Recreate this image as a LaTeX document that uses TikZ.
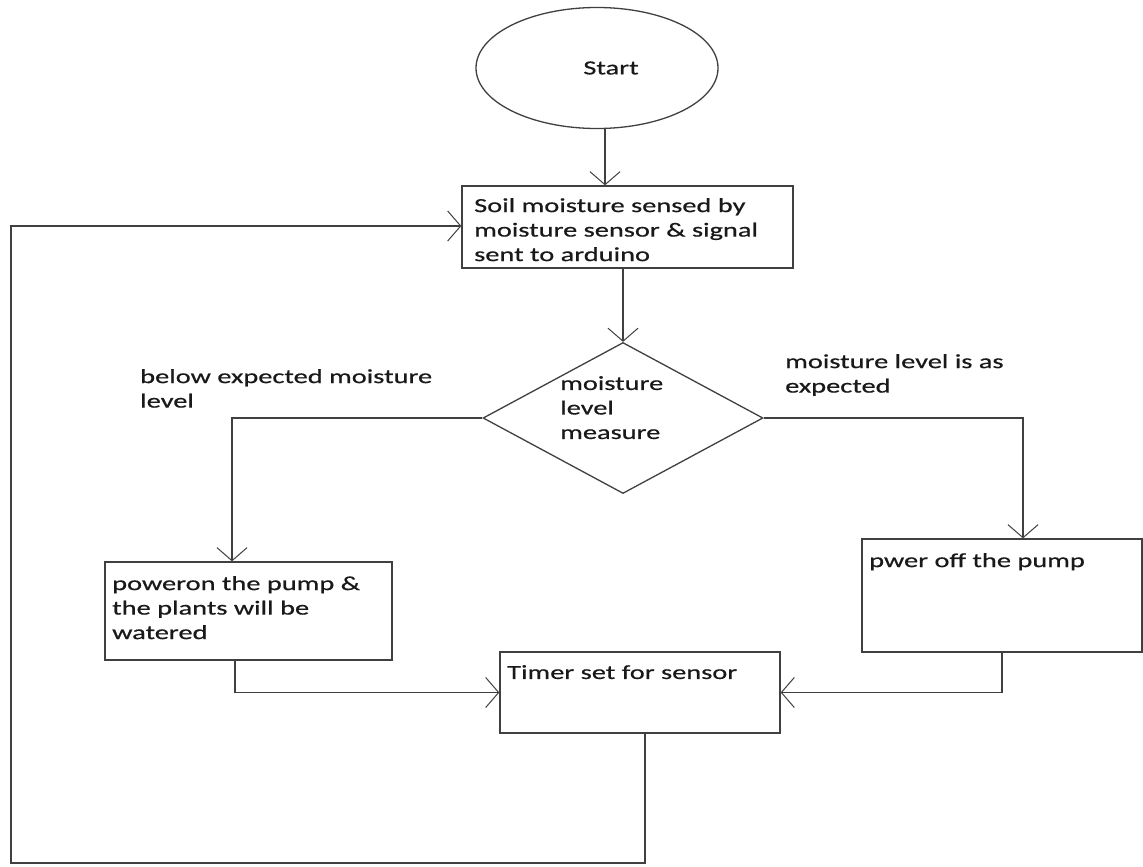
\documentclass[tikz,border=0pt]{standalone}
\usepackage{fontspec}
\setmainfont{Carlito}[FakeStretch=1.42,FakeBold=0.6]
\usetikzlibrary{shapes.geometric,arrows.meta}
\begin{document}
\begin{tikzpicture}[x=1pt,y=-1pt,
  line/.style={draw=black!75, line width=1.3pt},
  arr/.style={line, -{Straight Barb[length=13pt,width=30pt,line width=1pt]}},
  box/.style={draw=black!75, line width=1.3pt, rectangle, inner sep=0pt},
  txt/.style={font=\fontsize{20}{24.5}\selectfont, text=black!90, align=left, inner sep=0pt, anchor=north west}]
\useasboundingbox[fill=white] (0,0) rectangle (1143,867);

\node[box, ellipse, minimum width=242pt, minimum height=121pt] (start) at (597,68) {};
\node[txt, anchor=center] (starttxt) at (611,68) {Start};

\node[box, minimum width=331pt, minimum height=82pt] (box1) at (627.5,227) {};
\node[txt] (box1txt) at (474,198) {Soil moisture sensed by\\moisture sensor \& signal\\sent to arduino};

\node[box, diamond, minimum width=280pt, minimum height=151pt] (dia) at (623,418) {};
\node[txt] (diatxt) at (560,376) {moisture\\level\\measure};

\node[txt] (lbl1) at (140,369) {below expected moisture\\level};
\node[txt] (lbl2) at (785,354) {moisture level is as\\expected};

\node[box, minimum width=287pt, minimum height=98pt] (box2) at (248.5,611) {};
\node[txt] (box2txt) at (112,576) {poweron the pump \&\\the plants will be\\watered};

\node[box, minimum width=280pt, minimum height=113pt] (box3) at (1002,595.5) {};
\node[txt] (box3txt) at (869,553) {pwer off the pump};

\node[box, minimum width=280pt, minimum height=81pt] (timer) at (640,692.5) {};
\node[txt] (timertxt) at (507,665) {Timer set for sensor};

\coordinate (c2) at (11,863);

\draw[arr] ([xshift=8pt]start.south) -- ([xshift=8pt]start.south |- box1.north);
\draw[arr] (dia.north |- box1.south) -- (dia.north);
\draw[arr] (dia.west) -| ([xshift=-16.5pt]box2.north);
\draw[arr] (dia.east) -| ([xshift=21pt]box3.north);
\draw[arr] (box3.south) |- (timer.east);
\draw[arr] ([xshift=-13.5pt]box2.south) |- (timer.west);
\draw[arr] ([xshift=5pt]timer.south) |- (c2) |- ([yshift=1pt]box1.west);
\end{tikzpicture}
\end{document}
